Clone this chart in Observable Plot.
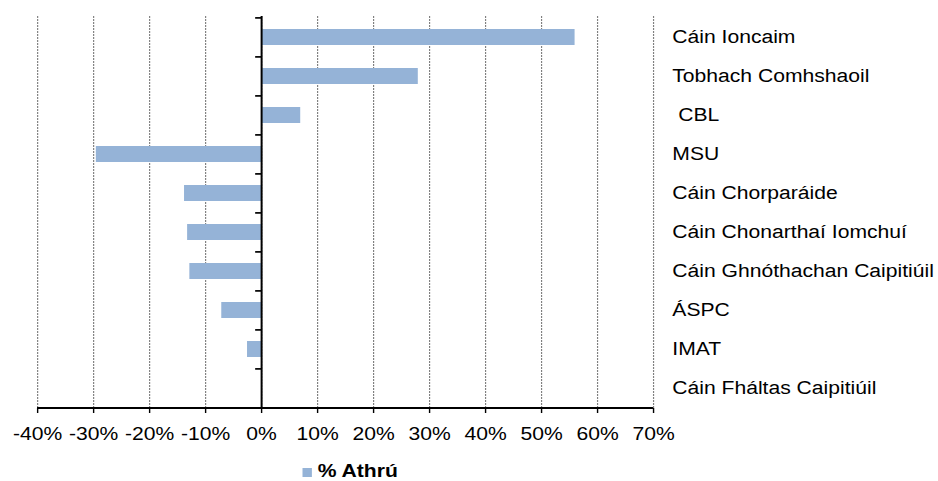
<!DOCTYPE html>
<html>
<head>
<meta charset="utf-8">
<script src="https://cdn.jsdelivr.net/npm/d3@7"></script>
<script src="https://cdn.jsdelivr.net/npm/@observablehq/plot@0.6"></script>
<style>
  html, body { margin: 0; padding: 0; background: #fff; }
  svg text { white-space: pre; }
  #legend { position: relative; width: 800px; height: 29px; transform: scaleX(1.1725); transform-origin: 0 0;
            font-family: Arial, "Liberation Sans", sans-serif; }
  #legend .sw { position: absolute; left: 257.6px; top: 15.7px; width: 8.3px; height: 9.3px; background: #95b3d7; }
  #legend .lb { position: absolute; left: 271px; top: 10px; line-height: 18px; font-size: 18px; font-weight: bold; color: #000; white-space: nowrap; }
</style>
</head>
<body>
<div id="chart"></div>
<div id="legend"><span class="sw"></span><span class="lb">% Athrú</span></div>
<script>
const categories = [
  "Cáin Ioncaim",
  "Tobhach Comhshaoil",
  " CBL",
  "MSU",
  "Cáin Chorparáide",
  "Cáin Chonarthaí Iomchuí",
  "Cáin Ghnóthachan Caipitiúil",
  "ÁSPC",
  "IMAT",
  "Cáin Fháltas Caipitiúil"
];
const changes = [0.560, 0.280, 0.070, -0.295, -0.1375, -0.132, -0.128, -0.071, -0.025, 0];
const xTicks = [-0.4, -0.3, -0.2, -0.1, 0, 0.1, 0.2, 0.3, 0.4, 0.5, 0.6, 0.7];
const seriesName = "% Athrú";

const data = categories.map((c, i) => ({cat: c, value: changes[i]}));

const W = 800, H = 452, mT = 16, mB = 44;
const step = (H - mT - mB) / categories.length;

const svg = Plot.plot({
  width: W,
  height: H,
  marginLeft: 31.6,
  marginRight: 243.1,
  marginTop: mT,
  marginBottom: mB,
  style: {fontFamily: 'Arial, "Liberation Sans", sans-serif', fontSize: "18px", color: "#000", background: "#fff"},
  x: {domain: [-0.4, 0.7], label: null},
  y: {domain: categories, paddingInner: 0.6, paddingOuter: 0.3, label: null, axis: null},
  marks: [
    Plot.gridX(xTicks, {stroke: "#808080", strokeOpacity: 1, strokeWidth: 1, strokeDasharray: "2,1"}),
    Plot.barX(data, {x: "value", y: "cat", fill: "#95b3d7"}),
    Plot.ruleX([0], {stroke: "#000", strokeWidth: 1.7}),
    Plot.ruleY(categories, {y: d => d, x1: 0, x2: 0, insetLeft: -5, dy: -step / 2, stroke: "#000", strokeWidth: 1.7}),
    Plot.ruleY([categories[categories.length - 1]], {y: d => d, dy: step / 2, stroke: "#000", strokeWidth: 2}),
    Plot.axisX(xTicks, {tickSize: 5, tickPadding: 14, stroke: "#000", strokeWidth: 1.2, fontSize: 18,
      tickFormat: d => `${Math.round(d * 100)}%`, label: null}),
    Plot.axisY({anchor: "right", tickSize: 0, tickPadding: 16, fontSize: 18, label: null})
  ]
});

svg.setAttribute("width", 938);
svg.setAttribute("height", H);
svg.setAttribute("preserveAspectRatio", "none");
svg.style.width = "938px";
svg.style.height = H + "px";
svg.style.maxWidth = "none";
svg.style.display = "block";
document.getElementById("chart").appendChild(svg);
</script>
</body>
</html>
